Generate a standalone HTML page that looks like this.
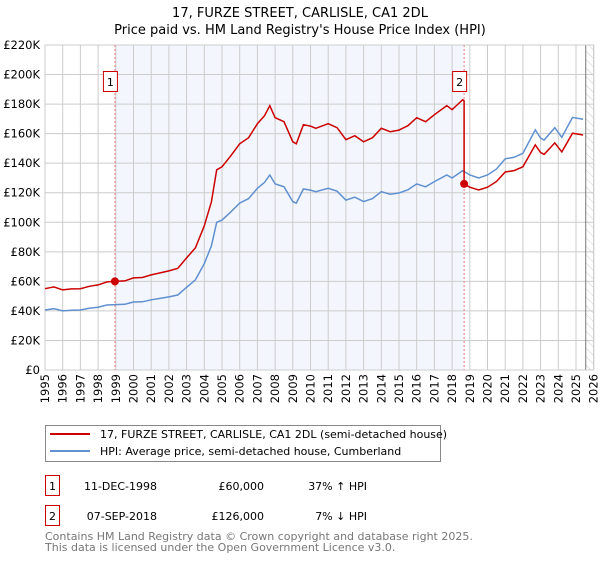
<!DOCTYPE html>
<html><head><meta charset="utf-8"><style>
body{margin:0;background:#fff;width:600px;height:560px;overflow:hidden;font-family:"DejaVu Sans","Liberation Sans",sans-serif}
svg text{font-family:"DejaVu Sans","Liberation Sans",sans-serif}
</style></head><body>
<svg id="chart" width="600" height="560" xmlns="http://www.w3.org/2000/svg">
<defs><pattern id="hatch" width="6" height="6" patternUnits="userSpaceOnUse" patternTransform="rotate(-45)"><line x1="0" y1="0" x2="0" y2="6" stroke="#ccc" stroke-width="1"/></pattern></defs>
<text x="300" y="17" text-anchor="middle" font-size="13">17, FURZE STREET, CARLISLE, CA1 2DL</text>
<text x="300" y="34" text-anchor="middle" font-size="13">Price paid vs. HM Land Registry's House Price Index (HPI)</text>
<g id="plot"></g>
<g>
<rect x="45.5" y="425.5" width="395" height="36" fill="#fff" stroke="#888"/>
<line x1="50" y1="434" x2="90" y2="434" stroke="#cc0000" stroke-width="2"/>
<text x="100" y="438" font-size="11">17, FURZE STREET, CARLISLE, CA1 2DL (semi-detached house)</text>
<line x1="50" y1="451" x2="90" y2="451" stroke="#6090d0" stroke-width="2"/>
<text x="100" y="455" font-size="11">HPI: Average price, semi-detached house, Cumberland</text>
</g>
<g font-size="11">
<rect x="45.5" y="475.5" width="14" height="20" fill="#fff" stroke="#cc0000"/>
<text x="52.5" y="490" text-anchor="middle">1</text>
<text x="157" y="490" text-anchor="end">11-DEC-1998</text>
<text x="264" y="490" text-anchor="end">£60,000</text>
<text x="367" y="490" text-anchor="end">37% ↑ HPI</text>
<rect x="45.5" y="505.5" width="14" height="20" fill="#fff" stroke="#cc0000"/>
<text x="52.5" y="520" text-anchor="middle">2</text>
<text x="157" y="520" text-anchor="end">07-SEP-2018</text>
<text x="264" y="520" text-anchor="end">£126,000</text>
<text x="367" y="520" text-anchor="end">7% ↓ HPI</text>
</g>
<text x="45" y="540" font-size="11" fill="#777">Contains HM Land Registry data © Crown copyright and database right 2025.</text>
<text x="45" y="551" font-size="11" fill="#777">This data is licensed under the Open Government Licence v3.0.</text>
</svg>
<script>
const yearTicks=[1995,1996,1997,1998,1999,2000,2001,2002,2003,2004,2005,2006,2007,2008,2009,2010,2011,2012,2013,2014,2015,2016,2017,2018,2019,2020,2021,2022,2023,2024,2025,2026];
const valueTicks=[0,20000,40000,60000,80000,100000,120000,140000,160000,180000,200000,220000];
const valueLabels=["£0","£20K","£40K","£60K","£80K","£100K","£120K","£140K","£160K","£180K","£200K","£220K"];
const hpiYears=[1995,1995.5,1996,1996.5,1997,1997.5,1998,1998.5,1999,1999.5,2000,2000.5,2001,2001.5,2002,2002.5,2003,2003.5,2004,2004.4,2004.7,2005,2005.5,2006,2006.5,2007,2007.4,2007.7,2008,2008.5,2009,2009.2,2009.6,2010,2010.3,2011,2011.5,2012,2012.5,2013,2013.5,2014,2014.5,2015,2015.5,2016,2016.5,2017,2017.7,2018,2018.6,2019,2019.5,2020,2020.5,2021,2021.5,2022,2022.7,2023,2023.2,2023.8,2024.2,2024.8,2025.4];
const hpiValues=[40600,41500,40000,40500,40600,41800,42500,44000,44300,44500,46000,46200,47500,48500,49500,50800,56000,61000,72000,84000,100000,101500,107000,113000,116000,123000,127000,132000,126000,124000,114000,113000,122500,121800,120700,123000,121000,115000,117000,114000,116000,120700,119000,119800,122000,126000,124000,127500,132000,130000,135000,132000,130000,132000,136000,143000,144000,146700,162500,157000,155700,164000,157500,171000,169700];
const saleYears=[1998.95,2018.68];
const salePrices=[60000,126000];
const X0=45,X1=593.7,Y0=370,Y1=45;
const xs=y=>X0+(y-1995)/(2026-1995)*(X1-X0);
const ys=v=>Y0-v/220000*(Y0-Y1);
const ns="http://www.w3.org/2000/svg";
const g=document.getElementById('plot');
function mk(t,a){const e=document.createElementNS(ns,t);for(const k in a)e.setAttribute(k,a[k]);g.appendChild(e);return e;}
function hpiAt(t){for(let i=0;i<hpiYears.length-1;i++){if(t<=hpiYears[i+1]){const f=(t-hpiYears[i])/(hpiYears[i+1]-hpiYears[i]);return hpiValues[i]+f*(hpiValues[i+1]-hpiValues[i]);}}return hpiValues[hpiValues.length-1];}
let e;
e=mk('rect',{x:xs(saleYears[0]),y:Y1,width:xs(saleYears[1])-xs(saleYears[0]),height:Y0-Y1,fill:'#f3f6fd'});


e=mk('rect',{x:xs(2025.55),y:Y1,width:X1-xs(2025.55),height:Y0-Y1,fill:'url(#hatch)'});


yearTicks.forEach(y=>{e=mk('line',{x1:xs(y),x2:xs(y),y1:Y1,y2:Y0,stroke:'#ccc','stroke-width':1});


const tx=xs(y)+4,ty=374;
e=mk('text',{x:tx,y:ty,'text-anchor':'end','font-size':'11.5',transform:'rotate(-90 '+tx+' '+ty+')'});e.textContent=y;

});
valueTicks.forEach((v,i)=>{e=mk('line',{x1:X0,x2:X1,y1:ys(v),y2:ys(v),stroke:'#ccc','stroke-width':1});


e=mk('text',{x:40,y:ys(v)+4,'text-anchor':'end','font-size':'11.5'});e.textContent=valueLabels[i];

});
e=mk('line',{x1:xs(2025.55),x2:xs(2025.55),y1:Y1,y2:Y0,stroke:'#777','stroke-width':1});


e=mk('rect',{x:X0,y:Y1,width:X1-X0,height:Y0-Y1,fill:'none',stroke:'#ccc'});


saleYears.forEach((s,i)=>{e=mk('line',{x1:xs(s),x2:xs(s),y1:Y1,y2:Y0,stroke:'#f08080','stroke-dasharray':'2,2','stroke-width':1});

});
let d=hpiYears.map((y,i)=>(i?'L':'M')+xs(y).toFixed(1)+','+ys(hpiValues[i]).toFixed(1)).join('');
e=mk('path',{d:d,fill:'none',stroke:'#6090d0','stroke-width':1.5});


const pts=[];
const r1=salePrices[0]/hpiAt(saleYears[0]),r2=salePrices[1]/hpiAt(saleYears[1]);
hpiYears.forEach((y,i)=>{if(y<saleYears[1])pts.push([y,hpiValues[i]*r1]);});
pts.push([saleYears[1],hpiAt(saleYears[1])*r1]);pts.push([saleYears[1],salePrices[1]]);
hpiYears.forEach((y,i)=>{if(y>saleYears[1])pts.push([y,hpiValues[i]*r2]);});
d=pts.map((p,i)=>(i?'L':'M')+xs(p[0]).toFixed(1)+','+ys(p[1]).toFixed(1)).join('');
e=mk('path',{d:d,fill:'none',stroke:'#cc0000','stroke-width':1.5});


saleYears.forEach((s,i)=>{e=mk('circle',{cx:xs(s),cy:ys(salePrices[i]),r:4,fill:'#cc0000'});


e=mk('rect',{x:xs(s)-11.5,y:71.5,width:14,height:20,fill:'#fff',stroke:'#cc0000'});


e=mk('text',{x:xs(s)-4.5,y:86,'text-anchor':'middle','font-size':'11'});e.textContent=i+1;

});
</script>
</body></html>
